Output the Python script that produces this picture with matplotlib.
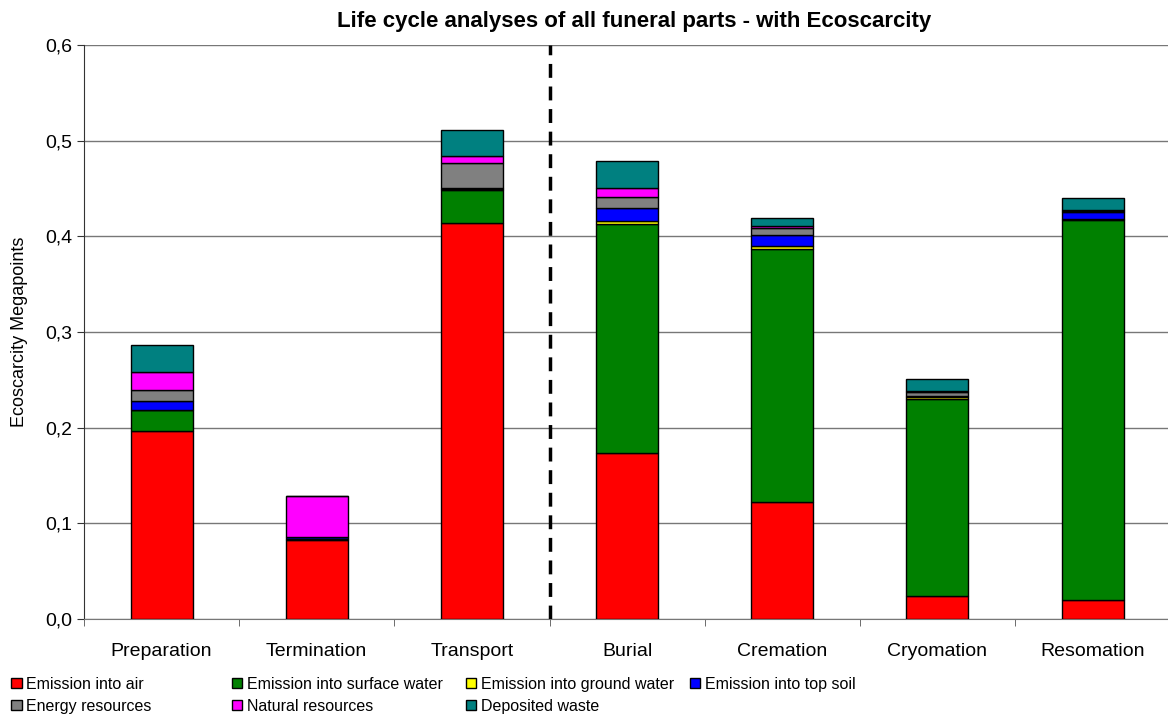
import matplotlib.pyplot as plt
import numpy as np

plt.rcParams['font.family'] = ['Liberation Sans', 'DejaVu Sans']

parts = ["Preparation", "Termination", "Transport", "Burial", "Cremation", "Cryomation", "Resomation"]

air = [0.197, 0.0826, 0.414, 0.1735, 0.122, 0.024, 0.020]
surface_water = [0.021, 0.001, 0.0345, 0.239, 0.2645, 0.206, 0.397]
ground_water = [0.0005, 0.0002, 0.0005, 0.004, 0.003, 0.002, 0.001]
top_soil = [0.0094, 0.002, 0.002, 0.0136, 0.0115, 0.001, 0.007]
energy = [0.0115, 0.0002, 0.026, 0.0115, 0.0073, 0.004, 0.002]
natural = [0.0188, 0.0425, 0.0073, 0.0094, 0.003, 0.001, 0.001]
waste = [0.0282, 0.0002, 0.027, 0.028, 0.0084, 0.0125, 0.0125]

series = [
    ("Emission into air", air, "#FF0000"),
    ("Emission into surface water", surface_water, "#008000"),
    ("Emission into ground water", ground_water, "#FFFF00"),
    ("Emission into top soil", top_soil, "#0000FF"),
    ("Energy resources", energy, "#808080"),
    ("Natural resources", natural, "#FF00FF"),
    ("Deposited waste", waste, "#008080"),
]

fig = plt.figure(figsize=(11.68, 7.17), dpi=100)
ax = fig.add_axes([0.0719, 0.1367, 0.93, 0.8005])

x = np.arange(len(parts))
bottom = np.zeros(len(parts))
handles = []
for name, vals, col in series:
    b = ax.bar(x, vals, 0.4, bottom=bottom, color=col, edgecolor="black",
               linewidth=1.0, label=name, zorder=3)
    handles.append(b)
    bottom += np.array(vals)

# separator between preparation steps and disposal methods
ax.axvline(2.5, color="black", linestyle=(0, (4, 2.5)), linewidth=2.5, zorder=4)

ax.set_xlim(-0.5, len(parts) - 0.5)
ax.set_ylim(0, 0.6)
ax.set_yticks(np.arange(0, 0.61, 0.1))
ax.set_yticklabels([f"{v:.1f}".replace(".", ",") for v in np.arange(0, 0.61, 0.1)], fontsize=14)
ax.set_xticks(x)
ax.set_xticklabels(parts, fontsize=14)
ax.set_xticks(np.arange(-0.5, len(parts)), minor=True)
ax.tick_params(axis="x", which="major", length=0, pad=17)
ax.tick_params(axis="x", which="minor", length=5, color="#555555")
ax.tick_params(axis="y", length=5, color="#333333")
ax.yaxis.grid(True, color="#777777", linewidth=1.0, zorder=0)
ax.set_axisbelow(True)
for s in ["top", "right"]:
    ax.spines[s].set_visible(False)
ax.spines["left"].set_color("#333333")
ax.spines["bottom"].set_color("#777777")

ax.set_ylabel("Ecoscarcity Megapoints", fontsize=13, labelpad=12)
fig.suptitle("Life cycle analyses of all funeral parts - with Ecoscarcity",
             x=0.543, y=0.985, fontsize=16, fontweight="bold")

# legend laid out row by row, in four fixed columns
col_x = [0.0, 0.189, 0.389, 0.581]
columns = [[0, 4], [1, 5], [2, 6], [3]]
for cx, idx in zip(col_x, columns):
    fig.legend(handles=[handles[i] for i in idx], loc="upper left",
               bbox_to_anchor=(cx, 0.072), ncol=1, frameon=False, fontsize=11.5,
               handlelength=0.65, handleheight=0.65, handletextpad=0.3,
               labelspacing=0.45, borderpad=0.2)

fig.savefig("out.png", dpi=100)
